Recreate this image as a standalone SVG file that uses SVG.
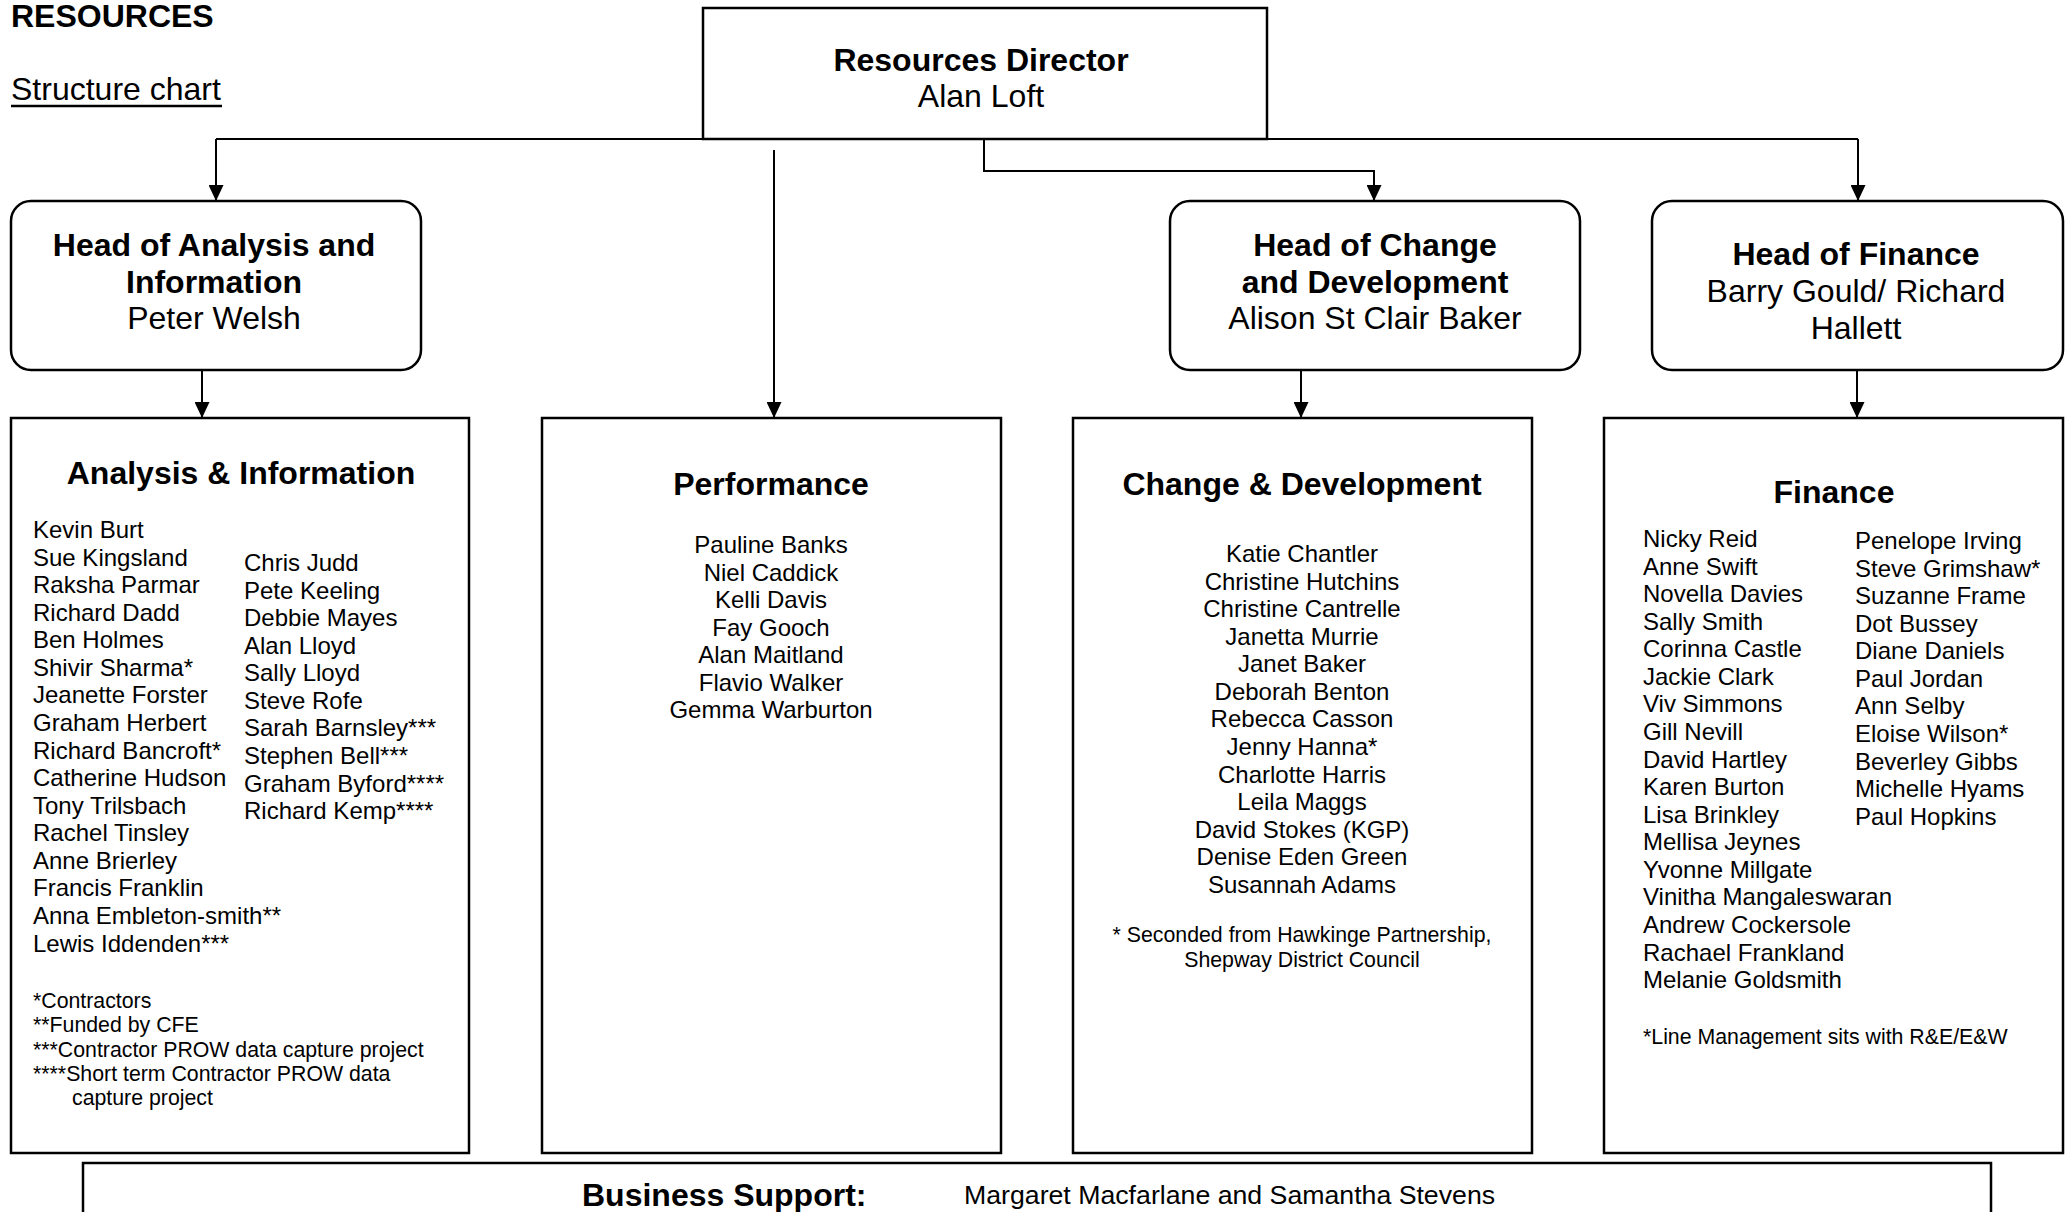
<svg xmlns="http://www.w3.org/2000/svg" width="2071" height="1212" viewBox="0 0 2071 1212">
<style>
text{font-family:"Liberation Sans",Arial,Helvetica,sans-serif;fill:#000}
.b{font-weight:bold}
.t32{font-size:32px}
.n24{font-size:24px}
.f21{font-size:21.3px}
.mid{text-anchor:middle}
.box{fill:#fff;stroke:#000;stroke-width:2.5}
.con{fill:none;stroke:#000;stroke-width:2}
</style>
<defs>
<marker id="arr" viewBox="0 0 16 15" refX="16" refY="7.5" markerWidth="16" markerHeight="15" markerUnits="userSpaceOnUse" orient="auto">
<path d="M0,0 L16,7.5 L0,15 z" fill="#000"/>
</marker>
</defs>
<rect width="2071" height="1212" fill="#fff"/>

<g id="header">
<text x="11" y="27" class="b t32">RESOURCES</text>
<text x="11" y="100" class="t32">Structure chart</text>
<line x1="11" y1="106" x2="222" y2="106" stroke="#000" stroke-width="2.5"/>
</g>

<g id="connectors">
<path class="con" d="M216,139 H1858"/>
<path class="con" d="M216,139 V201" marker-end="url(#arr)"/>
<path class="con" d="M1858,139 V201" marker-end="url(#arr)"/>
<path class="con" d="M984,139 V171 H1374 V201" marker-end="url(#arr)"/>
<path class="con" d="M774,150 V418" marker-end="url(#arr)"/>
<path class="con" d="M202,370 V418" marker-end="url(#arr)"/>
<path class="con" d="M1301,370 V418" marker-end="url(#arr)"/>
<path class="con" d="M1857,370 V418" marker-end="url(#arr)"/>
</g>

<g id="director">
<rect class="box" x="703" y="8" width="564" height="131"/>
<text x="981" y="71" class="b t32 mid">Resources Director</text>
<text x="981" y="107" class="t32 mid">Alan Loft</text>
</g>

<g id="head-analysis">
<rect class="box" x="11" y="201" width="410" height="169" rx="20"/>
<text x="214" y="256" class="b t32 mid">Head of Analysis and</text>
<text x="214" y="293" class="b t32 mid">Information</text>
<text x="214" y="329" class="t32 mid">Peter Welsh</text>
</g>

<g id="head-change">
<rect class="box" x="1170" y="201" width="410" height="169" rx="20"/>
<text x="1375" y="256" class="b t32 mid">Head of Change</text>
<text x="1375" y="293" class="b t32 mid">and Development</text>
<text x="1375" y="329" class="t32 mid">Alison St Clair Baker</text>
</g>

<g id="head-finance">
<rect class="box" x="1652" y="201" width="411" height="169" rx="20"/>
<text x="1856" y="265" class="b t32 mid">Head of Finance</text>
<text x="1856" y="302" class="t32 mid">Barry Gould/ Richard</text>
<text x="1856" y="339" class="t32 mid">Hallett</text>
</g>

<g id="team-analysis">
<rect class="box" x="11" y="418" width="458" height="735"/>
<text x="241" y="484" class="b t32 mid">Analysis &amp; Information</text>
<text class="n24" y="538">
<tspan x="33">Kevin Burt</tspan>
<tspan x="33" dy="27.57">Sue Kingsland</tspan>
<tspan x="33" dy="27.57">Raksha Parmar</tspan>
<tspan x="33" dy="27.57">Richard Dadd</tspan>
<tspan x="33" dy="27.57">Ben Holmes</tspan>
<tspan x="33" dy="27.57">Shivir Sharma*</tspan>
<tspan x="33" dy="27.57">Jeanette Forster</tspan>
<tspan x="33" dy="27.57">Graham Herbert</tspan>
<tspan x="33" dy="27.57">Richard Bancroft*</tspan>
<tspan x="33" dy="27.57">Catherine Hudson</tspan>
<tspan x="33" dy="27.57">Tony Trilsbach</tspan>
<tspan x="33" dy="27.57">Rachel Tinsley</tspan>
<tspan x="33" dy="27.57">Anne Brierley</tspan>
<tspan x="33" dy="27.57">Francis Franklin</tspan>
<tspan x="33" dy="27.57">Anna Embleton-smith**</tspan>
<tspan x="33" dy="27.57">Lewis Iddenden***</tspan>
</text>
<text class="n24" y="571">
<tspan x="244">Chris Judd</tspan>
<tspan x="244" dy="27.57">Pete Keeling</tspan>
<tspan x="244" dy="27.57">Debbie Mayes</tspan>
<tspan x="244" dy="27.57">Alan Lloyd</tspan>
<tspan x="244" dy="27.57">Sally Lloyd</tspan>
<tspan x="244" dy="27.57">Steve Rofe</tspan>
<tspan x="244" dy="27.57">Sarah Barnsley***</tspan>
<tspan x="244" dy="27.57">Stephen Bell***</tspan>
<tspan x="244" dy="27.57">Graham Byford****</tspan>
<tspan x="244" dy="27.57">Richard Kemp****</tspan>
</text>
<text class="f21" y="1008">
<tspan x="33">*Contractors</tspan>
<tspan x="33" dy="24.3">**Funded by CFE</tspan>
<tspan x="33" dy="24.3">***Contractor PROW data capture project</tspan>
<tspan x="33" dy="24.3">****Short term Contractor PROW data</tspan>
<tspan x="72" dy="24.3">capture project</tspan>
</text>
</g>

<g id="team-performance">
<rect class="box" x="542" y="418" width="459" height="735"/>
<text x="771" y="495" class="b t32 mid">Performance</text>
<text class="n24 mid" y="553"><tspan x="771">Pauline Banks</tspan><tspan x="771" dy="27.57">Niel Caddick</tspan><tspan x="771" dy="27.57">Kelli Davis</tspan><tspan x="771" dy="27.57">Fay Gooch</tspan><tspan x="771" dy="27.57">Alan Maitland</tspan><tspan x="771" dy="27.57">Flavio Walker</tspan><tspan x="771" dy="27.57">Gemma Warburton</tspan></text>
</g>

<g id="team-change">
<rect class="box" x="1073" y="418" width="459" height="735"/>
<text x="1302" y="495" class="b t32 mid">Change &amp; Development</text>
<text class="n24 mid" y="562"><tspan x="1302">Katie Chantler</tspan><tspan x="1302" dy="27.57">Christine Hutchins</tspan><tspan x="1302" dy="27.57">Christine Cantrelle</tspan><tspan x="1302" dy="27.57">Janetta Murrie</tspan><tspan x="1302" dy="27.57">Janet Baker</tspan><tspan x="1302" dy="27.57">Deborah Benton</tspan><tspan x="1302" dy="27.57">Rebecca Casson</tspan><tspan x="1302" dy="27.57">Jenny Hanna*</tspan><tspan x="1302" dy="27.57">Charlotte Harris</tspan><tspan x="1302" dy="27.57">Leila Maggs</tspan><tspan x="1302" dy="27.57">David Stokes (KGP)</tspan><tspan x="1302" dy="27.57">Denise Eden Green</tspan><tspan x="1302" dy="27.57">Susannah Adams</tspan></text>
<text class="f21 mid" y="942"><tspan x="1302">* Seconded from Hawkinge Partnership,</tspan><tspan x="1302" dy="25">Shepway District Council</tspan></text>
</g>

<g id="team-finance">
<rect class="box" x="1604" y="418" width="459" height="735"/>
<text x="1834" y="503" class="b t32 mid">Finance</text>
<text class="n24" y="547">
<tspan x="1643">Nicky Reid</tspan>
<tspan x="1643" dy="27.57">Anne Swift</tspan>
<tspan x="1643" dy="27.57">Novella Davies</tspan>
<tspan x="1643" dy="27.57">Sally Smith</tspan>
<tspan x="1643" dy="27.57">Corinna Castle</tspan>
<tspan x="1643" dy="27.57">Jackie Clark</tspan>
<tspan x="1643" dy="27.57">Viv Simmons</tspan>
<tspan x="1643" dy="27.57">Gill Nevill</tspan>
<tspan x="1643" dy="27.57">David Hartley</tspan>
<tspan x="1643" dy="27.57">Karen Burton</tspan>
<tspan x="1643" dy="27.57">Lisa Brinkley</tspan>
<tspan x="1643" dy="27.57">Mellisa Jeynes</tspan>
<tspan x="1643" dy="27.57">Yvonne Millgate</tspan>
<tspan x="1643" dy="27.57">Vinitha Mangaleswaran</tspan>
<tspan x="1643" dy="27.57">Andrew Cockersole</tspan>
<tspan x="1643" dy="27.57">Rachael Frankland</tspan>
<tspan x="1643" dy="27.57">Melanie Goldsmith</tspan>
</text>
<text class="n24" y="549">
<tspan x="1855">Penelope Irving</tspan>
<tspan x="1855" dy="27.57">Steve Grimshaw*</tspan>
<tspan x="1855" dy="27.57">Suzanne Frame</tspan>
<tspan x="1855" dy="27.57">Dot Bussey</tspan>
<tspan x="1855" dy="27.57">Diane Daniels</tspan>
<tspan x="1855" dy="27.57">Paul Jordan</tspan>
<tspan x="1855" dy="27.57">Ann Selby</tspan>
<tspan x="1855" dy="27.57">Eloise Wilson*</tspan>
<tspan x="1855" dy="27.57">Beverley Gibbs</tspan>
<tspan x="1855" dy="27.57">Michelle Hyams</tspan>
<tspan x="1855" dy="27.57">Paul Hopkins</tspan>
</text>
<text x="1643" y="1044" class="f21">*Line Management sits with R&amp;E/E&amp;W</text>
</g>

<g id="business-support">
<rect class="box" x="83" y="1163" width="1908" height="80"/>
<text x="582" y="1206" class="b t32">Business Support:</text>
<text x="964" y="1204" style="font-size:26.7px">Margaret Macfarlane and Samantha Stevens</text>
</g>
</svg>
